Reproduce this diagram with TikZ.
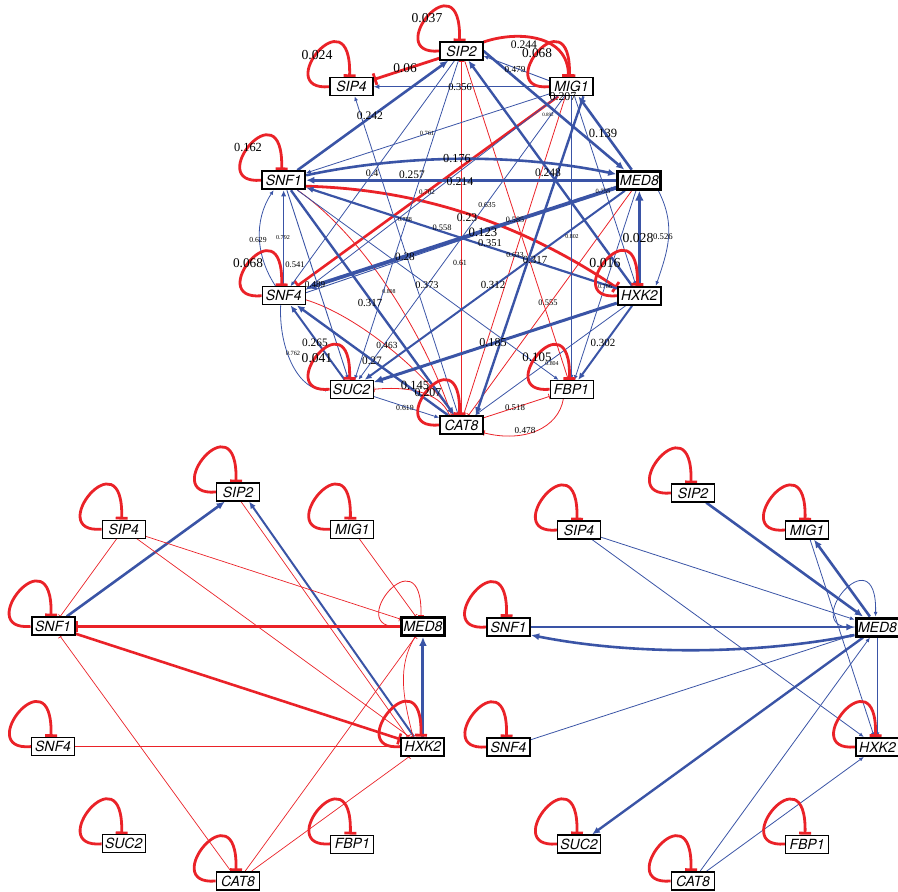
\documentclass[tikz,border=0pt]{standalone}
\usepackage{fontspec}
\setmainfont{Liberation Serif}
\setsansfont{TeX Gyre Heros}
\usetikzlibrary{arrows.meta,calc,backgrounds}
\definecolor{cred}{RGB}{234,34,40}
\definecolor{cblue}{RGB}{58,84,166}
\tikzset{
  gene/.style={draw=black, fill=white, minimum width=43pt, minimum height=18pt, inner sep=0pt,
    font=\sffamily\itshape\fontsize{14}{14}\selectfont},
  w/.style={line width=#1pt},
  act/.style={draw=cblue, -{Latex[length=3pt 2, width=2.5pt 1.8]}},
  inh/.style={draw=cred, -{Bar[width=3pt 3.2]}},
  lbl/.style={inner sep=0pt, text=black},
  selfl/.style={inh, w=2.8},
}
\newcommand\geneloop[2][selfl]{\draw[#1] (#2.west) .. controls +(-59,5) and +(2,-86) .. ($(#2.north)+(-2,0)$);}
\begin{document}
\begin{tikzpicture}[x=1pt,y=-1pt]
\useasboundingbox (0,0) rectangle (898,892);
% ---------- nodes ----------
\foreach \p/\cx/\cy/\r in {t/461.5/238/187, l/238/686.5/194.5, r/693/687/194} {
  \foreach \n/\a/\bw in {SIP2/90/1.2, MIG1/54/1.2, MED8/18/3, HXK2/-18/2, FBP1/-54/0.7, CAT8/-90/1.7, SUC2/-126/1.1, SNF4/-162/1.2, SNF1/162/2, SIP4/126/1.2} {
    \node[gene, line width=\bw pt] (\p\n) at ({\cx+\r*cos(\a)},{\cy-\r*sin(\a)}) {\n};
  }
}
\begin{scope}[on background layer]
% ---------- top panel ----------
% inhibitions
\draw[inh,w=2.8] (tSIP2) -- (tSIP4);
\draw[inh,w=2.8] ($(tSIP2.east)+(0,-9)$) .. controls +(35,-12) and +(0,-42) .. ($(tMIG1.north)+(-3,0)$);
\draw[inh,w=2.6] (tMIG1) -- (tSNF4);
\draw[inh,w=2.8] ($(tSNF1.east)+(0,6)$) .. controls +(114,3) and +(-95,-64) .. ($(tHXK2.west)+(0,-8)$);
\draw[inh,w=0.8] (tCAT8) -- (tSIP2);
\draw[inh,w=0.8] (tSIP2) -- (tFBP1);
\draw[inh,w=0.8] ($(tMIG1.south)+(-6,0)$) -- ($(tCAT8.north)+(2,0)$);
\draw[inh,w=0.8] ($(tSNF1.south)+(14,0)$) .. controls +(70,49) and +(-25,-75) .. ($(tCAT8.north)+(-10,0)$);
\draw[inh,w=0.8] ($(tSNF4.east)+(0,4)$) .. controls +(50,15) and +(-30,-45) .. ($(tCAT8.north)+(-8,0)$);
\draw[inh,w=0.8] (tMED8) -- (tCAT8);
\draw[inh,w=0.8] ($(tCAT8.north)+(-12,0)$) .. controls +(-10,-25) and +(30,-3) .. (tSUC2.east);
\draw[inh,w=0.8] (tCAT8) -- (tFBP1);
\draw[inh,w=0.8] ($(tFBP1.south)+(-8,0)$) .. controls +(-5,30) and +(40,10) .. ($(tCAT8.south east)+(0,-2)$);
% activations
\draw[act,w=2.6] (tSNF1) -- (tSIP2);
\draw[act,w=2.6] ($(tSNF1.east)+(0,-5)$) .. controls +(100,-21) and +(-100,-21) .. ($(tMED8.west)+(0,-6)$);
\draw[act,w=2.6] (tMED8) -- (tSNF1);
\draw[act,w=2.6] (tMED8) -- (tMIG1);
\draw[act,w=2.6] (tSIP2.east) -- ($(tMED8.north west)+(8,0)$);
\draw[act,w=3.8] (tMED8) -- (tSNF4);
\draw[act,w=2.2] (tHXK2) -- (tSNF1);
\draw[act,w=3.0] (tHXK2) -- (tSUC2);
\draw[act,w=3.4] (tHXK2) -- (tMED8);
\draw[act,w=0.8] ($(tMED8.south east)+(-4,0)$) .. controls +(18,35) and +(12,-35) .. ($(tHXK2.north east)+(-6,0)$);
\draw[act,w=2.0] (tHXK2) -- (tFBP1);
\draw[act,w=0.8] (tHXK2) -- (tCAT8);
\draw[act,w=2.4] (tSNF1) -- (tCAT8);
\draw[act,w=2.4] (tCAT8) -- (tSNF4);
\draw[act,w=2.0] (tSUC2) -- (tSNF4);
\draw[act,w=0.8] ($(tSNF4.south)+(-3,0)$) .. controls +(-2,45) and +(-30,3) .. (tSUC2.west);
\draw[act,w=0.8] ($(tSNF4.north)+(-8,0)$) .. controls +(-20,-30) and +(-20,30) .. ($(tSNF1.south)+(-10,0)$);
\draw[act,w=1.6] (tSNF4) -- (tSNF1);
\draw[act,w=0.9] (tSNF1) -- (tSUC2);
\draw[act,w=0.9] ($(tMIG1.west)+(0,-6)$) -- ($(tSIP2.east)+(0,5)$);
\draw[act,w=1.4] (tMIG1) -- (tSIP4);
\draw[act,w=0.8] (tMIG1) -- (tSNF1);
\draw[act,w=0.8] ($(tMIG1.south)+(-14,0)$) -- ($(tSNF4.east)+(0,-6)$);
\draw[act,w=0.8] (tMIG1) -- (tSUC2);
\draw[act,w=1.0] (tMIG1) -- (tFBP1);
\draw[act,w=0.8] (tMIG1) -- (tHXK2);
\draw[act,w=2.4] ($(tMIG1.south)+(12,0)$) -- ($(tCAT8.north east)+(-8,0)$);
\draw[act,w=2.4] (tHXK2) -- (tSIP2);
\draw[act,w=0.8] (tSIP2) -- (tSNF4);
\draw[act,w=0.8] (tSIP2) -- (tSUC2);
\draw[act,w=0.8] (tSNF1) -- (tFBP1);
\draw[act,w=2.0] (tMED8) -- (tSUC2);
\draw[act,w=0.9] ($(tSNF4.east)+(0,-3)$) -- ($(tMED8.west)+(0,7)$);
\draw[act,w=0.8] (tMED8) -- (tFBP1);
\draw[act,w=0.8] (tSUC2) -- (tCAT8);
\draw[act,w=0.8] (tCAT8) -- (tSIP4);
\foreach \n in {SIP2,SIP4,MIG1,SNF1,SNF4,HXK2,SUC2,FBP1,CAT8} {\geneloop{t\n}}
% ---------- bottom left panel ----------
\draw[act,w=2.6] (lSNF1) -- (lSIP2);
\draw[act,w=2.0] ($(lHXK2.north)+(-9,0)$) -- ($(lSIP2.south east)+(-11,0)$);
\draw[inh,w=2.6] (lMED8) -- (lSNF1);
\draw[inh,w=2.6] (lSNF1) -- (lHXK2);
\draw[act,w=3.0] (lHXK2) -- (lMED8);
\draw[inh,w=0.7] (lSIP4) -- (lSNF1);
\draw[inh,w=0.7] (lSIP4) -- (lMED8);
\draw[inh,w=0.7] (lSIP4) -- (lHXK2);
\draw[inh,w=0.7] ($(lSIP2.south)+(3,0)$) -- ($(lHXK2.north west)+(7,0)$);
\draw[inh,w=0.7] (lMIG1) -- (lMED8);
\draw[inh,w=0.7] (lSNF4) -- (lHXK2);
\draw[inh,w=0.7] (lCAT8) -- (lSNF1);
\draw[inh,w=0.7] (lCAT8) -- (lMED8);
\draw[inh,w=0.7] (lCAT8) -- (lHXK2);
\draw[inh,w=0.7] ($(lMED8.south)+(-8,0)$) .. controls +(-18,30) and +(-10,-40) .. ($(lHXK2.north)+(-10,0)$);
\geneloop[inh,w=0.8]{lMED8}
\foreach \n in {SIP2,SIP4,MIG1,SNF1,SNF4,HXK2,SUC2,FBP1,CAT8} {\geneloop{l\n}}
% ---------- bottom right panel ----------
\draw[act,w=2.6] (rSIP2) -- (rMED8);
\draw[act,w=2.6] (rMED8) -- (rMIG1);
\draw[act,w=0.8] (rSIP4) -- (rMED8);
\draw[act,w=0.8] (rSIP4) -- (rHXK2);
\draw[act,w=0.8] (rMIG1) -- (rHXK2);
\draw[act,w=2.6] (rSNF1) -- (rMED8);
\draw[act,w=2.6] ($(rMED8.west)+(0,8)$) .. controls +(-100,20) and +(100,20) .. ($(rSNF1.east)+(0,8)$);
\draw[act,w=0.8] (rSNF4) -- (rMED8);
\draw[act,w=2.4] (rMED8) -- (rSUC2);
\draw[act,w=0.8] (rCAT8) -- (rMED8);
\draw[act,w=0.8] (rCAT8) -- (rHXK2);
\draw[act,w=0.8] (rMED8) -- (rHXK2);
\geneloop[act,w=0.8]{rMED8}
\foreach \n in {SIP2,SIP4,MIG1,SNF1,SNF4,HXK2,SUC2,FBP1,CAT8} {\geneloop{r\n}}
\end{scope}
% ---------- edge labels (top panel) ----------
\foreach \v/\x/\y [count=\i] in {
 0.037/427/18, 0.024/317/55, 0.162/248/147, 0.068/537/53, 0.244/524/45, 0.06/405/68,
 0.479/515/69, 0.356/460/87, 0.207/563/97, 0.892/548/115, 0.242/370/116, 0.761/427/133,
 0.139/603/133, 0.176/457/159, 0.4/372/173, 0.257/412/175, 0.214/460/182, 0.248/548/173,
 0.702/427/192, 0.755/603/191, 0.635/487/205, 0.23/467/218, 0.788/405/220, 0.585/515/220,
 0.558/442/228, 0.123/483/232, 0.351/490/243, 0.802/572/237, 0.028/638/238, 0.526/663/237,
 0.629/258/240, 0.792/283/238, 0.541/295/265, 0.28/405/257, 0.61/460/263, 0.633/515/255,
 0.317/535/260, 0.068/248/263, 0.016/605/263, 0.489/315/285, 0.786/605/286, 0.808/389/292,
 0.373/427/285, 0.312/493/285, 0.317/370/303, 0.555/548/303, 0.265/315/343, 0.762/293/353,
 0.041/317/358, 0.463/387/345, 0.27/372/361, 0.185/493/343, 0.302/603/343, 0.105/537/357,
 0.804/552/364, 0.145/415/385, 0.207/428/393, 0.619/405/408, 0.518/515/408, 0.478/525/430} {
  \pgfmathsetmacro\fs{14-10*\v}
  \node[lbl, font=\fontsize{\fs}{\fs}\selectfont] (lab\i) at (\x,\y) {\v};
}
\end{tikzpicture}
\end{document}
